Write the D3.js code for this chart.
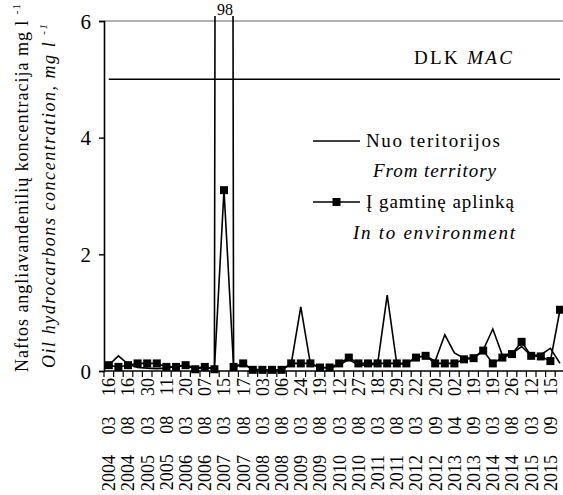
<!DOCTYPE html>
<html lang="lt">
<head>
<meta charset="UTF-8">
<title>Naftos angliavandenilių koncentracija</title>
<script src="https://cdnjs.cloudflare.com/ajax/libs/d3/7.8.5/d3.min.js"></script>
<style>
    body { margin: 0; background: #fff; }
    svg { display: block; }
    svg text { font-family: "Liberation Serif", "DejaVu Serif", serif; fill: #000; }
</style>
</head>
<body>
<svg id="chart" width="563" height="495"></svg>
<script>
    // tick labels, one on every second sampling date
    const dateLabels = [
        "2004 03 16", "2004 08 16", "2005 03 30", "2005 08 11", "2006 03 20", "2006 08 07",
        "2007 03 15", "2007 08 17", "2008 03 03", "2008 08 06", "2009 03 24", "2009 08 19",
        "2010 03 12", "2010 08 27", "2011 03 18", "2011 08 29", "2012 03 22", "2012 09 20",
        "2013 04 02", "2013 09 19", "2014 03 19", "2014 08 26", "2015 03 12", "2015 09 15"
    ];

    // Nuo teritorijos / From territory (mg/l)
    const fromTerritory = [
        0.10, 0.26, 0.12, 0.06, 0.05, 0.04, 0.05, 0.08, 0.10, 0.05, 0.07, 0.04,
        98, 0.06, 0.12, 0.03, 0.02, 0.02, 0.02, 0.12, 1.10, 0.12, 0.06, 0.05,
        0.10, 0.20, 0.10, 0.10, 0.12, 1.30, 0.12, 0.12, 0.23, 0.26, 0.17, 0.62,
        0.31, 0.22, 0.22, 0.36, 0.72, 0.27, 0.30, 0.42, 0.26, 0.28, 0.39, 0.13
    ];

    // I gamtine aplinka / In to environment (mg/l)
    const intoEnvironment = [
        0.10, 0.07, 0.10, 0.13, 0.13, 0.13, 0.07, 0.07, 0.10, 0.03, 0.07, 0.03,
        3.10, 0.07, 0.13, 0.02, 0.02, 0.02, 0.02, 0.13, 0.13, 0.13, 0.06, 0.06,
        0.13, 0.23, 0.13, 0.13, 0.13, 0.13, 0.13, 0.13, 0.23, 0.26, 0.13, 0.13,
        0.13, 0.20, 0.22, 0.35, 0.13, 0.23, 0.29, 0.50, 0.26, 0.25, 0.17, 1.05
    ];

    const mac = 5;             // DLK / MAC limit
    const yTicks = [0, 2, 4, 6];

    const svg = d3.select("#chart");
    const plotLeft = 104, plotTop = 21, plotBottom = 371;
    const step = 9.6;

    const x = d3.scaleBand()
        .domain(d3.range(fromTerritory.length))
        .range([plotLeft, plotLeft + step * fromTerritory.length])
        .padding(0);
    const cx = i => x(i) + x.bandwidth() / 2;

    const y = d3.scaleLinear().domain([0, 6]).range([plotBottom, plotTop]);

    svg.append("defs").append("clipPath").attr("id", "clip")
        .append("rect")
        .attr("x", plotLeft).attr("y", plotTop - 5)
        .attr("width", 563 - plotLeft).attr("height", plotBottom - plotTop + 10);

    // top gridline
    svg.append("line")
        .attr("x1", plotLeft).attr("x2", 563)
        .attr("y1", y(6)).attr("y2", y(6))
        .attr("stroke", "#9a9a9a").attr("stroke-width", 1.3);

    // MAC line
    svg.append("line")
        .attr("x1", cx(0)).attr("x2", cx(fromTerritory.length - 1))
        .attr("y1", y(mac)).attr("y2", y(mac))
        .attr("stroke", "#000").attr("stroke-width", 1.5);

    // y axis
    const yAxis = svg.append("g")
        .attr("transform", `translate(${plotLeft},0)`)
        .call(d3.axisLeft(y).tickValues(yTicks).tickFormat(d3.format("d"))
            .tickSize(5).tickPadding(8));
    yAxis.attr("font-family", null);
    yAxis.select(".domain").attr("stroke-width", 1.6);
    yAxis.selectAll(".tick line").attr("stroke-width", 1.4);
    yAxis.selectAll(".tick text")
        .attr("font-size", 21).attr("dy", "0.34em");

    // series
    const line = vals => d3.line().x((d, i) => cx(i)).y(d => y(d))(vals);
    const plot = svg.append("g").attr("clip-path", "url(#clip)");

    plot.append("path")
        .attr("d", line(fromTerritory))
        .attr("fill", "none").attr("stroke", "#000").attr("stroke-width", 1.6);

    plot.append("path")
        .attr("d", line(intoEnvironment))
        .attr("fill", "none").attr("stroke", "#000").attr("stroke-width", 1.6);

    plot.selectAll("rect.mark")
        .data(intoEnvironment)
        .enter().append("rect")
        .attr("class", "mark")
        .attr("x", (d, i) => cx(i) - 4).attr("y", d => y(d) - 4)
        .attr("width", 8).attr("height", 8)
        .attr("fill", "#000");

    // value of the off-scale peak
    const peak = d3.maxIndex(fromTerritory);
    svg.append("text")
        .attr("x", cx(peak) + 1).attr("y", 15)
        .attr("text-anchor", "middle")
        .attr("font-size", 16)
        .text(fromTerritory[peak]);

    // x axis
    const xAxis = svg.append("g");
    xAxis.append("line")
        .attr("x1", plotLeft).attr("x2", 563)
        .attr("y1", plotBottom).attr("y2", plotBottom)
        .attr("stroke", "#000").attr("stroke-width", 1.6);
    xAxis.selectAll("line.tick")
        .data(d3.range(fromTerritory.length + 1))
        .enter().append("line")
        .attr("class", "tick")
        .attr("x1", k => plotLeft + k * x.step()).attr("x2", k => plotLeft + k * x.step())
        .attr("y1", plotBottom).attr("y2", plotBottom + 6)
        .attr("stroke", "#000").attr("stroke-width", 1.2);
    xAxis.selectAll("text")
        .data(dateLabels)
        .enter().append("text")
        .attr("transform", (d, k) => `translate(${cx(k * 2)},${plotBottom + 7}) rotate(-90)`)
        .attr("text-anchor", "end")
        .attr("dy", "0.35em")
        .attr("font-size", 18)
        .attr("word-spacing", 16)
        .text(d => d);

    // y title
    const t1 = svg.append("text")
        .attr("transform", "translate(28,372) rotate(-90)")
        .attr("font-size", 18)
        .attr("textLength", 368).attr("lengthAdjust", "spacing");
    t1.append("tspan").text("Naftos angliavandenilių koncentracija mg l ");
    t1.append("tspan").attr("font-size", 11).attr("dy", -8).text("-1");

    const t2 = svg.append("text")
        .attr("transform", "translate(55,368) rotate(-90)")
        .attr("font-size", 18).attr("font-style", "italic")
        .attr("textLength", 344).attr("lengthAdjust", "spacing");
    t2.append("tspan").text("Oil hydrocarbons concentration, mg l ");
    t2.append("tspan").attr("font-size", 11).attr("dy", -8).text("-1");

    // legend
    const mt = svg.append("text").attr("x", 414).attr("y", 64).attr("font-size", 19)
        .attr("textLength", 98).attr("lengthAdjust", "spacing");
    mt.append("tspan").text("DLK ");
    mt.append("tspan").attr("font-style", "italic").text("MAC");

    const lg = svg.append("g").attr("font-size", 19);
    lg.append("line")
        .attr("x1", 313).attr("x2", 360).attr("y1", 141).attr("y2", 141)
        .attr("stroke", "#000").attr("stroke-width", 1.6);
    lg.append("text").attr("x", 366).attr("y", 147)
        .attr("textLength", 134).attr("lengthAdjust", "spacing")
        .text("Nuo teritorijos");
    lg.append("text").attr("x", 373).attr("y", 177)
        .attr("font-style", "italic")
        .attr("textLength", 123).attr("lengthAdjust", "spacing")
        .text("From territory");
    lg.append("line")
        .attr("x1", 313).attr("x2", 360).attr("y1", 202).attr("y2", 202)
        .attr("stroke", "#000").attr("stroke-width", 1.6);
    lg.append("rect")
        .attr("x", 332.5).attr("y", 198).attr("width", 8).attr("height", 8)
        .attr("fill", "#000");
    lg.append("text").attr("x", 366).attr("y", 208)
        .attr("textLength", 148).attr("lengthAdjust", "spacing")
        .text("Į gamtinę aplinką");
    lg.append("text").attr("x", 353).attr("y", 239)
        .attr("font-style", "italic")
        .attr("textLength", 162).attr("lengthAdjust", "spacing")
        .text("In to environment");
</script>
</body>
</html>
